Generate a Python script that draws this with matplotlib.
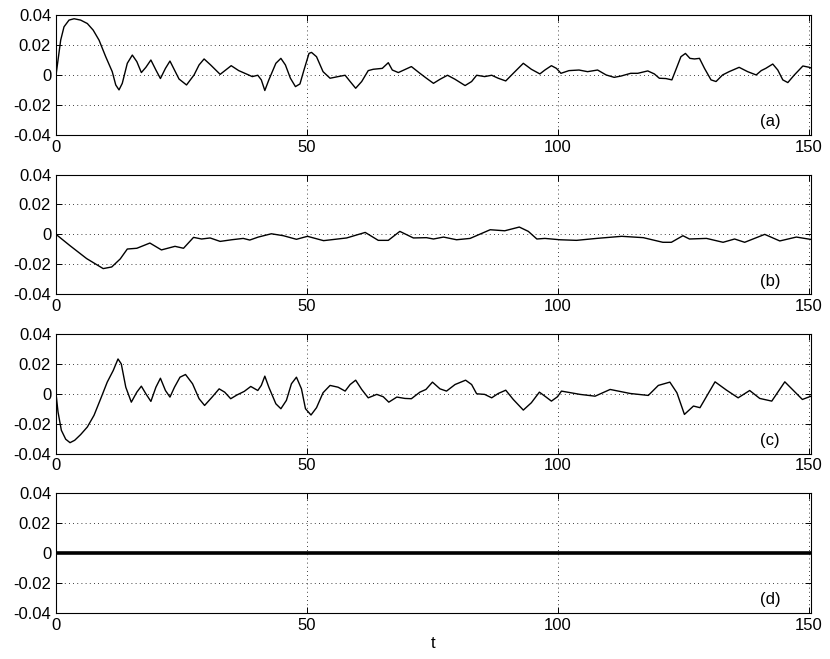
import matplotlib
matplotlib.use("Agg")
from matplotlib import pyplot as plt

# panel (a)
a_t = [0, 0.4, 0.93, 1.59, 2.59, 3.6, 4.9, 6.24, 7.4, 8.57, 9.9, 11.2, 11.9, 12.55, 13.2,
       14.2, 15.2, 16.1, 17.0, 17.9, 18.9, 19.9, 20.8, 21.8, 22.7, 23.6, 24.5, 26.0, 27.5,
       28.5, 29.5, 30.8, 32.7, 33.8, 34.9, 36.4, 38.1, 39.1, 40.2, 40.9, 41.6, 42.4, 43.8,
       44.8, 45.7, 46.7, 47.7, 48.6, 49.4, 50.4, 50.9, 51.9, 53.2, 54.6, 56.2, 57.6, 58.6,
       59.7, 60.9, 62.2, 63.2, 65.0, 66.2, 67.0, 68.2, 70.8, 72.5, 73.8, 75.2, 76.5, 78.0,
       79.5, 81.5, 82.8, 83.8, 85.4, 86.8, 88.1, 89.6, 91.1, 93.1, 94.7, 96.4, 97.4, 98.7,
       99.7, 100.6, 102.2, 104.2, 105.9, 107.9, 109.6, 111.2, 112.6, 114.5, 115.9, 117.9,
       119.2, 120.2, 121.5, 122.7, 123.6, 124.5, 125.4, 126.3, 127.2, 128.2, 129.2, 130.5,
       131.5, 132.8, 134.1, 136.1, 137.8, 139.5, 140.5, 141.4, 142.8, 143.8, 144.8, 145.8,
       147.1, 148.8, 150.1, 150.6]
a_y = [0, 0.010, 0.0233, 0.0322, 0.0367, 0.0376, 0.0367, 0.0344, 0.030, 0.0233, 0.0122,
       0.0022, -0.0067, -0.010, -0.0056, 0.0078, 0.0133, 0.0089, 0.0016, 0.0051, 0.010,
       0.0033, -0.0024, 0.0044, 0.0093, 0.0033, -0.0027, -0.0067, 0.0, 0.0067, 0.0107,
       0.0067, 0.0004, 0.0033, 0.0062, 0.0029, 0.0004, -0.0011, -0.0002, -0.0033, -0.0104,
       -0.0033, 0.0078, 0.0111, 0.0067, -0.0022, -0.0078, -0.006, 0.0033, 0.0144, 0.0151,
       0.0122, 0.0022, -0.0022, -0.0011, -0.0002, -0.0044, -0.0089, -0.0044, 0.0029, 0.0038,
       0.0044, 0.0082, 0.0033, 0.0016, 0.0056, 0.0011, -0.0022, -0.0056, -0.0029, -0.0002,
       -0.0029, -0.0071, -0.0044, -0.0002, -0.0011, -0.0002, -0.0022, -0.004, 0.0011, 0.0078,
       0.0038, 0.0007, 0.0033, 0.0062, 0.0044, 0.0011, 0.0029, 0.0033, 0.0022, 0.0033, 0.0,
       -0.0016, -0.0007, 0.0011, 0.0011, 0.0027, 0.0007, -0.0022, -0.0024, -0.0033, 0.0044,
       0.0122, 0.0144, 0.0111, 0.0107, 0.0111, 0.0044, -0.0033, -0.0044, 0.0, 0.0022, 0.0051,
       0.0022, 0.0, 0.0029, 0.0044, 0.0073, 0.0033, -0.0033, -0.0051, 0.0, 0.006, 0.0051,
       0.0044]

# panel (b)
b_t = [0, 2.8, 6.1, 9.4, 11.1, 12.8, 14.2, 16.1, 18.7, 21.0, 23.7, 25.4, 27.4, 29.0, 30.7,
       32.7, 35.0, 37.3, 38.6, 40.3, 42.9, 45.3, 47.9, 50.1, 53.3, 57.9, 61.6, 64.2, 66.2,
       68.5, 71.2, 73.8, 75.2, 77.2, 79.8, 82.5, 86.5, 89.4, 92.3, 94.1, 95.8, 97.4, 100.4,
       103.7, 107.7, 112.7, 117.0, 120.9, 122.6, 124.9, 126.2, 129.6, 132.9, 135.2, 137.2,
       141.2, 144.2, 147.5, 150.8]
b_y = [0, -0.0076, -0.0162, -0.0229, -0.0218, -0.0164, -0.0098, -0.0093, -0.0058, -0.0104,
       -0.008, -0.0093, -0.002, -0.0031, -0.0024, -0.0047, -0.0036, -0.0027, -0.0038, -0.0018,
       0.0004, -0.0009, -0.0033, -0.0013, -0.0042, -0.0024, 0.0013, -0.004, -0.004, 0.002,
       -0.0024, -0.0022, -0.0031, -0.0018, -0.0036, -0.0027, 0.0031, 0.0024, 0.0049, 0.002,
       -0.0031, -0.0027, -0.0036, -0.004, -0.0027, -0.0013, -0.0022, -0.0053, -0.0053,
       -0.0009, -0.0031, -0.0027, -0.0053, -0.0031, -0.0053, 0.0, -0.0044, -0.0018, -0.0036]

# panel (c)
c_t = [0, 0.4, 1.06, 1.93, 2.79, 3.72, 4.9, 6.24, 7.57, 8.9, 10.2, 11.4, 12.35, 13.0, 13.9,
       15.0, 16.1, 17.0, 17.9, 18.9, 19.9, 20.8, 21.8, 22.7, 23.6, 24.7, 25.8, 27.2, 28.5,
       29.6, 31.1, 32.5, 33.6, 34.8, 36.1, 37.5, 38.8, 40.2, 40.9, 41.6, 42.4, 43.8, 44.8,
       45.9, 46.9, 47.9, 48.9, 49.7, 50.8, 51.9, 53.2, 54.6, 56.2, 57.6, 58.6, 59.7, 60.9,
       62.2, 63.9, 65.2, 66.3, 67.9, 69.5, 70.8, 72.5, 73.7, 75.0, 76.5, 77.8, 79.5, 81.6,
       82.8, 83.8, 85.4, 86.8, 88.1, 89.6, 91.1, 93.1, 94.7, 96.3, 97.4, 98.7, 99.9, 100.7,
       104.4, 107.4, 110.4, 114.4, 118.0, 120.0, 122.3, 123.7, 125.2, 127.0, 128.3, 131.3,
       133.6, 135.9, 138.2, 140.2, 142.6, 145.2, 148.7, 150.8]
c_y = [0, -0.0122, -0.0244, -0.0304, -0.0327, -0.0311, -0.0273, -0.0222, -0.0144, -0.0033,
       0.0078, 0.0156, 0.0233, 0.020, 0.0044, -0.0056, 0.0011, 0.0051, 0.0, -0.0051, 0.0044,
       0.0104, 0.0022, -0.0022, 0.0044, 0.0111, 0.0129, 0.0067, -0.0033, -0.0078, -0.0022,
       0.0033, 0.0011, -0.0033, -0.0007, 0.0016, 0.0049, 0.0022, 0.0056, 0.0118, 0.0044,
       -0.0067, -0.010, -0.0044, 0.0067, 0.0111, 0.0033, -0.010, -0.0142, -0.0093, 0.0007,
       0.0056, 0.0044, 0.0018, 0.0062, 0.0091, 0.0029, -0.0027, -0.0004, -0.002, -0.0056,
       -0.0022, -0.0031, -0.0033, 0.0011, 0.0029, 0.0078, 0.0033, 0.0018, 0.0062, 0.0091,
       0.0062, 0.0, -0.0004, -0.0027, 0.0002, 0.0024, -0.0038, -0.0109, -0.006, 0.0011,
       -0.0016, -0.0049, -0.002, 0.0018, -0.0004, -0.0016, 0.0029, 0.0002, -0.0011, 0.0056,
       0.0078, 0.0007, -0.0138, -0.0082, -0.0093, 0.008, 0.0024, -0.0027, 0.0022, -0.0031,
       -0.0049, 0.008, -0.0038, -0.0011]

# panel (d): stays at zero
d_t = [0, 50, 100, 150.8]
d_y = [0, 0, 0, 0]

series = [(a_t, a_y, '(a)', 1.0), (b_t, b_y, '(b)', 1.0),
          (c_t, c_y, '(c)', 1.0), (d_t, d_y, '(d)', 2.6)]

plt.rcParams['font.family'] = ['Liberation Sans', 'DejaVu Sans']
plt.rcParams['axes.unicode_minus'] = False

fig, axes = plt.subplots(4, 1, figsize=(8.3, 6.59), dpi=100)
fig.subplots_adjust(left=0.0675, right=0.977, top=0.977, bottom=0.0698, hspace=0.333)

for ax, (t, y, lab, lw) in zip(axes, series):
    ax.plot(t, y, color='black', linewidth=lw, solid_joinstyle='round')
    ax.set_xlim(0, 150.4)
    ax.set_ylim(-0.04, 0.04)
    ax.set_xticks([0, 50, 100, 150])
    ax.set_yticks([-0.04, -0.02, 0, 0.02, 0.04])
    ax.set_yticklabels(['-0.04', '-0.02', '0', '0.02', '0.04'])
    ax.grid(True, linestyle=(0, (1, 4)), color='black', linewidth=0.6)
    ax.tick_params(direction='in', top=True, right=True, labelsize=12, length=4, width=0.7)
    for s in ax.spines.values():
        s.set_linewidth(0.8)
    ax.text(0.946, 0.11, lab, transform=ax.transAxes, ha='center', va='center', fontsize=12)

axes[-1].set_xlabel('t', fontsize=12, labelpad=2)

fig.savefig('out.png', dpi=100)
